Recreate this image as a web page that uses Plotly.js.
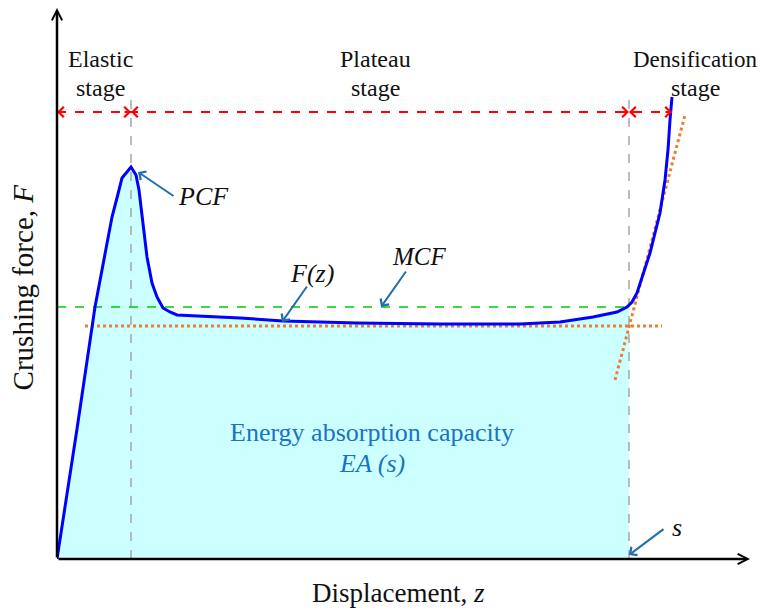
<!DOCTYPE html>
<html><head><meta charset="utf-8">
<script src="https://cdn.plot.ly/plotly-3.0.1.min.js"></script>
<style>html,body{margin:0;padding:0;background:#fff}#chart{width:760px;height:610px}</style>
</head><body><div id="chart"></div>
<script>
// Schematic crushing force F vs displacement z (arbitrary units)
const z = [0, 20, 38, 55, 61, 65, 74, 79, 82, 85, 90, 95, 100, 106, 113, 120, 183, 226, 300, 383, 463, 503, 536, 560, 570, 575, 580, 593, 603, 608, 611, 613, 615];
const F = [0, 130, 252, 342, 365, 381, 392, 384, 369, 342, 302, 276, 262, 251, 247, 244, 241, 238, 236, 235, 235, 237, 242, 247, 252, 257, 266, 306, 346, 379, 409, 439, 462];

const sDisp = 572;        // displacement s (onset of densification)
const peakZ = 74;         // displacement at PCF
const mcfLevel = 252;     // MCF
const plateauFitLevel = 233;
const plateauFitZ = [28, 605];
const densFitZ = [558, 628];
const densFitF = [179, 444];
const stageBarF = 447;
const stageLineTop = 459;
const densEndZ = 615;
const xMax = 693, yMax = 551;

const stageNames = [["Elastic", "stage"], ["Plateau", "stage"], ["Densification", "stage"]];
const stageCenters = [43, 318, 638];

// fill region under F(z) up to s
const fillZ = [], fillF = [];
for (let i = 0; i < z.length; i++) {
  if (z[i] <= sDisp) { fillZ.push(z[i]); fillF.push(F[i]); }
  else {
    const t = (sDisp - z[i-1]) / (z[i] - z[i-1]);
    fillZ.push(sDisp); fillF.push(F[i-1] + t * (F[i] - F[i-1]));
    break;
  }
}

const serif = "Liberation Serif";
const traces = [
  {x: fillZ, y: fillF, mode: "lines", fill: "tozeroy", fillcolor: "#ccffff", line: {width: 0}, hoverinfo: "skip"},
  {x: [peakZ, peakZ], y: [0, stageLineTop], mode: "lines", line: {color: "#a6a6a6", width: 1.5, dash: "dash"}},
  {x: [sDisp, sDisp], y: [0, stageLineTop], mode: "lines", line: {color: "#a6a6a6", width: 1.5, dash: "dash"}},
  {x: [0, sDisp], y: [mcfLevel, mcfLevel], mode: "lines", line: {color: "#00cc00", width: 1.5, dash: "dash"}},
  {x: plateauFitZ, y: [plateauFitLevel, plateauFitLevel], mode: "lines", line: {color: "#ed7d31", width: 3, dash: "dot"}},
  {x: densFitZ, y: densFitF, mode: "lines", line: {color: "#ed7d31", width: 3, dash: "dot"}},
  {x: z, y: F, mode: "lines", line: {color: "#0000ff", width: 3}},
  {x: [0, densEndZ], y: [stageBarF, stageBarF], mode: "lines", line: {color: "#ff0000", width: 2, dash: "dash"}}
];

const ann = [];
function head(x, y, dx, color) {
  ann.push({x: x, y: y, ax: x + dx, ay: y, xref: "x", yref: "y", axref: "x", ayref: "y",
    text: "", showarrow: true, arrowhead: 4, arrowsize: 1, arrowwidth: 2, arrowcolor: color});
}
// stage arrows
const stageBounds = [0, peakZ, sDisp, densEndZ];
for (let i = 0; i < 3; i++) {
  head(stageBounds[i], stageBarF, 8, "#ff0000");
  head(stageBounds[i+1], stageBarF, -8, "#ff0000");
}
// axes with arrows
ann.push({x: xMax, y: 0, ax: 0, ay: 0, xref: "x", yref: "y", axref: "x", ayref: "y", text: "", showarrow: true,
  arrowhead: 5, arrowsize: 0.8, arrowwidth: 2.5, arrowcolor: "#000"});
ann.push({x: 0, y: yMax, ax: 0, ay: 0, xref: "x", yref: "y", axref: "x", ayref: "y", text: "", showarrow: true,
  arrowhead: 5, arrowsize: 0.8, arrowwidth: 2.5, arrowcolor: "#000"});
// pointer arrows
function pointer(x, y, ax, ay) {
  ann.push({x: x, y: y, ax: ax, ay: ay, xref: "x", yref: "y", axref: "x", ayref: "y", text: "", showarrow: true,
    arrowhead: 4, arrowsize: 1, arrowwidth: 2, arrowcolor: "#1f6fb0"});
}
pointer(81, 387, 118, 362);   // PCF
pointer(225, 237, 251, 274);  // F(z)
pointer(324, 252, 350, 289);  // MCF
pointer(572, 4, 608, 31);     // s
function label(x, y, text, size, color) {
  ann.push({x: x, y: y, xref: "x", yref: "y", text: text, showarrow: false,
    xanchor: "center", yanchor: "middle", font: {family: serif, size: size, color: color}});
}
label(stageCenters[0], 500, stageNames[0][0], 24, "#111");
label(stageCenters[0], 471, stageNames[0][1], 24, "#111");
label(stageCenters[1], 500, stageNames[1][0], 24, "#111");
label(stageCenters[1], 471, stageNames[1][1], 24, "#111");
label(stageCenters[2], 500, stageNames[2][0], 23, "#111");
label(stageCenters[2], 471, stageNames[2][1], 24, "#111");
label(146, 363, "<i>PCF</i>", 26, "#111");
label(255, 286, "<i>F(z)</i>", 26, "#111");
label(362, 303, "<i>MCF</i>", 25, "#111");
label(620, 32, "<i>s</i>", 26, "#111");
label(315, 127, "Energy absorption capacity", 26, "#1a73c2");
label(315, 96, "<i>EA (s)</i>", 26, "#1a73c2");
// axis titles
ann.push({x: -0.049, y: 0.493, xref: "paper", yref: "paper", text: "Crushing force, <i>F</i>", showarrow: false,
  textangle: -90, xanchor: "center", yanchor: "middle", font: {family: serif, size: 29, color: "#111"}});
ann.push({x: 0.4935, y: -0.062, xref: "paper", yref: "paper", text: "Displacement, <i>z</i>", showarrow: false,
  xanchor: "center", yanchor: "middle", font: {family: serif, size: 27, color: "#111"}});

const layout = {
  width: 760, height: 610,
  margin: {l: 57, r: 10, t: 8, b: 51},
  paper_bgcolor: "#fff", plot_bgcolor: "#fff",
  showlegend: false,
  font: {family: serif},
  xaxis: {range: [0, xMax], showgrid: false, zeroline: false, showticklabels: false, ticks: "", showline: false, fixedrange: true},
  yaxis: {range: [0, yMax], showgrid: false, zeroline: false, showticklabels: false, ticks: "", showline: false, fixedrange: true},
  annotations: ann
};
Plotly.newPlot("chart", traces, layout, {displayModeBar: false, staticPlot: true});
</script></body></html>
